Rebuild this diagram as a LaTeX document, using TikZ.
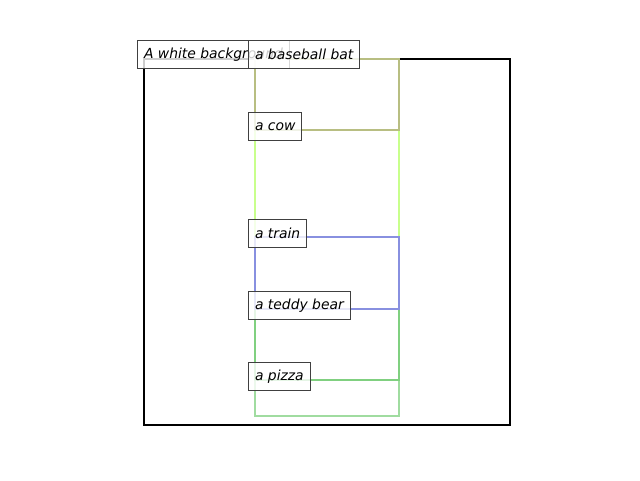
\documentclass[tikz,border=0pt]{standalone}
\usepackage{fontspec}
\setmainfont{DejaVu Sans}
\definecolor{cbat}{RGB}{184,190,130}
\definecolor{ccow}{RGB}{200,255,140}
\definecolor{ctrain}{RGB}{136,144,224}
\definecolor{cteddy}{RGB}{128,208,128}
\definecolor{cpizza}{RGB}{160,220,160}
\definecolor{cedge}{RGB}{64,64,64}
\tikzset{
  bbox/.style={line width=2.4pt},
  lab/.style={draw=cedge, line width=1pt, fill=white, fill opacity=0.8, text opacity=1,
    anchor=north west, inner xsep=6.5pt, inner ysep=0pt, minimum height=28pt,
    font=\fontsize{13.9}{16}\selectfont\itshape}
}
\begin{document}
\begin{tikzpicture}[x=1pt,y=-1pt]
\useasboundingbox (0,0) rectangle (640,480);
% bounding boxes
\draw[bbox, black] (144,59) rectangle (510,425);
\draw[bbox, ccow] (255,130) rectangle (399,237);
\draw[bbox, cbat] (255,59) rectangle (399,130);
\draw[bbox, cpizza] (255,380) rectangle (399,416);
\draw[bbox, cteddy] (255,309) rectangle (399,380);
\draw[bbox, ctrain] (255,237) rectangle (399,309);
% labels
\node[lab] (lbg) at (137,40) {A white background};
\node[lab] (lbat) at (248,40) {a baseball bat};
\node[lab] (lcow) at (248,112) {a cow};
\node[lab] (ltrain) at (248,219) {a train};
\node[lab] (lteddy) at (248,291) {a teddy bear};
\node[lab] (lpizza) at (248,362) {a pizza};
\end{tikzpicture}
\end{document}
